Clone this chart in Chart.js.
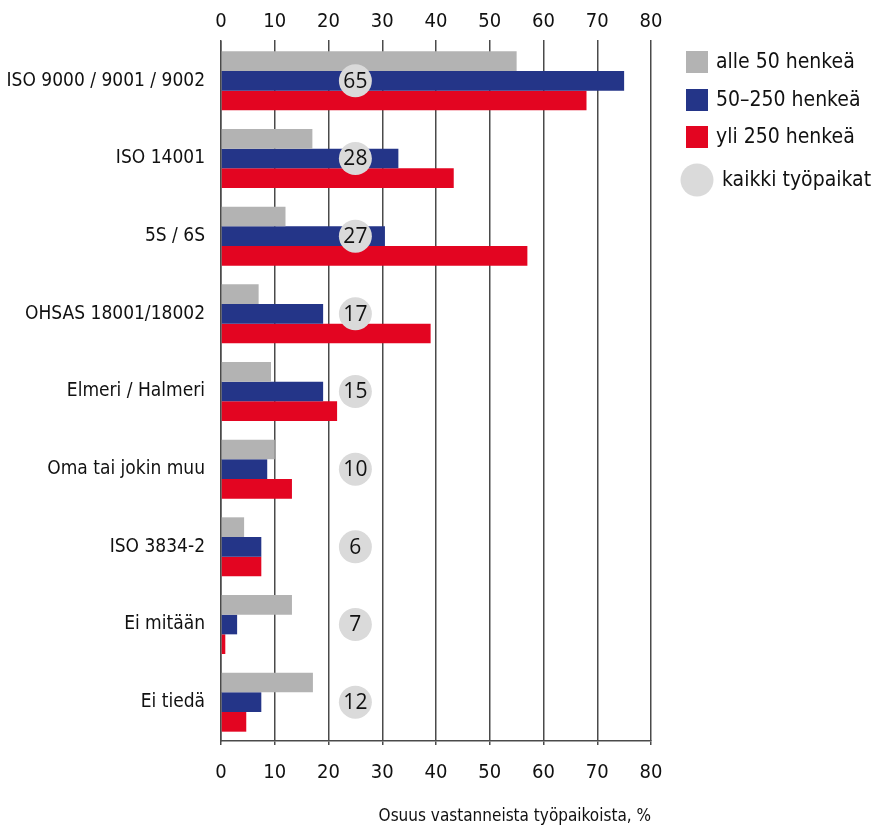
<!DOCTYPE html>
<html lang="fi">
<head>
<meta charset="utf-8">
<title>Työpaikkojen järjestelmät</title>
<script src="https://cdn.jsdelivr.net/npm/chart.js@4.4.1/dist/chart.umd.min.js"></script>
<style>
  html, body { margin: 0; background: #fff; }
  #wrap { position: relative; width: 889px; height: 827px; }
</style>
</head>
<body>
<div id="wrap"><canvas id="chart"></canvas></div>
<script>
// ── DATA ──────────────────────────────────────────────────────
const categories = [
  'ISO 9000 / 9001 / 9002', 'ISO 14001', '5S / 6S', 'OHSAS 18001/18002',
  'Elmeri / Halmeri', 'Oma tai jokin muu', 'ISO 3834-2', 'Ei mitään', 'Ei tiedä'
];
const seriesNames = ['alle 50 henkeä', '50–250 henkeä', 'yli 250 henkeä', 'kaikki työpaikat'];
const under50   = [55, 17, 12, 7, 9.3, 10, 4.3, 13.2, 17.1];
const mid50_250 = [75, 33, 30.5, 19, 19, 8.6, 7.5, 3, 7.5];
const over250   = [68, 43.3, 57, 39, 21.6, 13.2, 7.5, 0.8, 4.7];
const allWorkplaces = [65, 28, 27, 17, 15, 10, 6, 7, 12];
const xMin = 0, xMax = 80, xStep = 10;
const axisTitle = 'Osuus vastanneista työpaikoista, %';

const COLORS = { gray: '#b3b3b3', blue: '#243588', red: '#e30521', circle: '#dadada', grid: '#4a4a4a', text: '#111' };
const NARROW = "'Liberation Sans Narrow', 'DejaVu Sans Condensed', sans-serif";
const CIRCLE_X = 25; // bubbles sit in a fixed column

// ── PLUGINS ───────────────────────────────────────────────────
const bubbleLabels = {
  id: 'bubbleLabels',
  afterDatasetsDraw(chart) {
    const meta = chart.getDatasetMeta(3);
    const ctx = chart.ctx;
    ctx.save();
    ctx.font = "21px 'Open Sans', sans-serif";
    ctx.fillStyle = COLORS.text;
    ctx.textAlign = 'center';
    ctx.textBaseline = 'middle';
    meta.data.forEach((pt, i) => ctx.fillText(String(allWorkplaces[i]), pt.x, pt.y + 1));
    ctx.restore();
  }
};

const sideLegend = {
  id: 'sideLegend',
  afterDraw(chart) {
    const ctx = chart.ctx;
    const rows = [
      { c: COLORS.gray, y: 62 }, { c: COLORS.blue, y: 100 }, { c: COLORS.red, y: 137 }
    ];
    ctx.save();
    ctx.font = '21px ' + NARROW;
    ctx.textBaseline = 'middle';
    rows.forEach((r, i) => {
      ctx.fillStyle = r.c;
      ctx.fillRect(686, r.y - 11, 22, 22);
      ctx.fillStyle = COLORS.text;
      ctx.fillText(seriesNames[i], 716, r.y + 1);
    });
    ctx.fillStyle = COLORS.circle;
    ctx.beginPath();
    ctx.arc(697, 180, 16.5, 0, Math.PI * 2);
    ctx.fill();
    ctx.fillStyle = COLORS.text;
    ctx.fillText(seriesNames[3], 722, 181);
    ctx.restore();
  }
};

// ── CHART ─────────────────────────────────────────────────────
const tickFont = { family: NARROW, size: 20 };

new Chart(document.getElementById('chart'), {
  type: 'bar',
  data: {
    labels: categories,
    datasets: [
      { label: seriesNames[0], data: under50,   backgroundColor: COLORS.gray },
      { label: seriesNames[1], data: mid50_250, backgroundColor: COLORS.blue },
      { label: seriesNames[2], data: over250,   backgroundColor: COLORS.red },
      {
        type: 'line', label: seriesNames[3], indexAxis: 'y', order: -1,
        data: categories.map(c => ({ x: CIRCLE_X, y: c })),
        showLine: false, pointRadius: 16.5, pointHoverRadius: 16.5,
        pointBackgroundColor: COLORS.circle, pointBorderWidth: 0,
        xAxisID: 'x', yAxisID: 'y'
      }
    ]
  },
  options: {
    indexAxis: 'y',
    responsive: true, maintainAspectRatio: false, animation: false,
    layout: { padding: { left: 0, right: 238, top: 0, bottom: 0 } },
    datasets: { bar: { categoryPercentage: 0.76, barPercentage: 1.0 } },
    plugins: { legend: { display: false }, tooltip: { enabled: false } },
    scales: {
      x: {
        position: 'top', min: xMin, max: xMax,
        ticks: { stepSize: xStep, color: COLORS.text, font: tickFont, padding: 6 },
        grid: { color: COLORS.grid, lineWidth: 1.5, tickLength: 2, drawTicks: true },
        border: { display: false },
        afterFit: s => { s.height = 42; }
      },
      x2: {
        position: 'bottom', min: xMin, max: xMax,
        ticks: { stepSize: xStep, color: COLORS.text, font: tickFont, padding: 16 },
        grid: { color: COLORS.grid, lineWidth: 1.5, tickLength: 4, drawOnChartArea: false },
        border: { display: true, color: COLORS.grid, width: 1.5 },
        title: { display: true, text: axisTitle, align: 'end', color: COLORS.text,
                 font: { family: NARROW, size: 17 }, padding: { top: 0, bottom: 0 } },
        afterFit: s => { s.height = 86; }
      },
      y: {
        ticks: { color: COLORS.text, font: { family: NARROW, size: 19 }, padding: 8 },
        grid: { display: false },
        border: { display: true, color: COLORS.grid, width: 1.5 },
        afterFit: s => { s.width = 221; }
      }
    }
  },
  plugins: [bubbleLabels, sideLegend]
});
</script>
</body>
</html>
